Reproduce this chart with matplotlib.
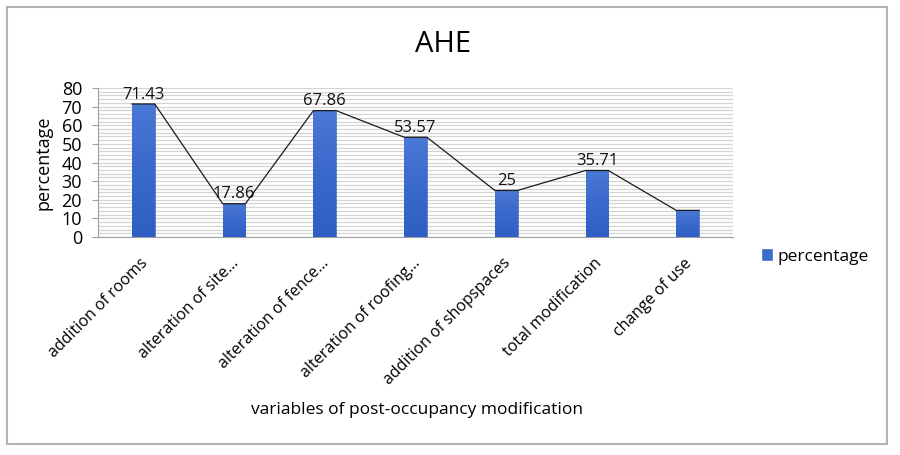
import matplotlib
matplotlib.use("Agg")
import matplotlib.pyplot as plt
from matplotlib.patches import Rectangle
from matplotlib.colors import LinearSegmentedColormap
import matplotlib.transforms as mtransforms
import numpy as np

categories = ["addition of rooms", "alteration of site…", "alteration of fence…",
              "alteration of roofing…", "addition of shopspaces", "total modification",
              "change of use"]
values = [71.43, 17.86, 67.86, 53.57, 25, 35.71, 14.29]
labels = ["71.43", "17.86", "67.86", "53.57", "25", "35.71", ""]
yticks = [0, 10, 20, 30, 40, 50, 60, 70, 80]

plt.rcParams['font.family'] = ['Open Sans', 'DejaVu Sans']

fig = plt.figure(figsize=(9, 4.55), dpi=100)
W, H = 900, 455
ax = fig.add_axes([98 / W, 1 - 237 / H, (733 - 98) / W, (237 - 88) / H])

x = np.arange(len(categories))
bw = 0.25
bars = ax.bar(x, values, width=bw, color='#3d6ccb', edgecolor='#3563bd', linewidth=0.4, zorder=3)

cmap = LinearSegmentedColormap.from_list('bg', ['#2f5fc3', '#3a69cc', '#4a78d5'])
grad = np.linspace(0, 1, 256).reshape(-1, 1)
for b in bars:
    x0, w, h = b.get_x(), b.get_width(), b.get_height()
    im = ax.imshow(grad, extent=[x0, x0 + w, 0, h], origin='lower', aspect='auto',
                   cmap=cmap, zorder=3.1)
    im.set_clip_path(b)

# connecting line: across bar tops and between bars
lx, ly = [], []
for xi, v in zip(x, values):
    lx += [xi - bw / 2, xi + bw / 2]
    ly += [v, v]
ax.plot(lx, ly, color='#1a1a1a', linewidth=0.9, zorder=4)

for xi, v, lab in zip(x, values, labels):
    if lab:
        ax.annotate(lab, (xi, v), xytext=(0, 1), textcoords='offset points',
                    ha='center', va='bottom', fontsize=12, color='#111111', zorder=5)

ax.set_xlim(-0.5, len(categories) - 0.5)
ax.set_ylim(0, 80)
ax.set_yticks(yticks)
ax.set_yticklabels([str(t) for t in yticks], fontsize=13)
ax.set_yticks(np.arange(0, 81, 2), minor=True)
ax.yaxis.grid(True, which='both', color='#d4d4d4', linewidth=0.9, zorder=0)
ax.set_axisbelow(True)
ax.tick_params(axis='y', which='minor', length=0)
ax.tick_params(axis='y', which='major', length=4.5, color='#a0a0a0', pad=7)
ax.tick_params(axis='x', length=0, pad=2)

ax.set_xticks(x)
ax.set_xticklabels(categories, rotation=45, ha='right', rotation_mode='anchor', fontsize=11.5)
off = mtransforms.ScaledTranslation(2 / 100, -21 / 100, fig.dpi_scale_trans)
for t in ax.get_xticklabels():
    t.set_va('center')
    t.set_transform(t.get_transform() + off)

for s in ['top', 'right']:
    ax.spines[s].set_visible(False)
ax.spines['left'].set_color('#a0a0a0')
ax.spines['bottom'].set_color('#a0a0a0')

fig.text(44 / W, 1 - 163 / H, 'percentage', rotation=90, ha='center', va='center', fontsize=13)
fig.text(417 / W, 1 - 410 / H, 'variables of post-occupancy modification', ha='center', va='center', fontsize=12.5)
fig.text(443 / W, 1 - 45 / H, 'AHE', ha='center', va='center', fontsize=21)

ax.legend([bars], ['percentage'], loc='center left', bbox_to_anchor=(746 / W, 1 - 257 / H),
          bbox_transform=fig.transFigure, frameon=False, fontsize=12.5, handlelength=0.6,
          handleheight=0.6, handletextpad=0.3)

fig.patches.append(Rectangle((7 / W, 1 - 444 / H), 880 / W, 437 / H, transform=fig.transFigure,
                             fill=False, edgecolor='#b4b4b4', linewidth=1.5))

fig.savefig('out.png', dpi=100)
